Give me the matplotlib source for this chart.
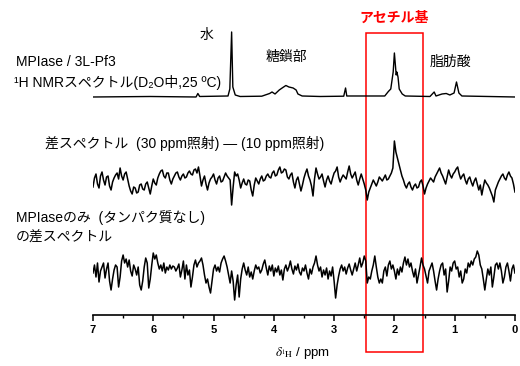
import numpy as np
import matplotlib
matplotlib.use("Agg")
import matplotlib.pyplot as plt
from matplotlib.patches import Rectangle

plt.rcParams['font.family'] = ['Liberation Sans', 'DejaVu Sans', 'Noto Sans CJK JP']
plt.rcParams['mathtext.fontset'] = 'stix'

# 1H NMR spectrum (ppm, intensity)
top_ppm = [7.0, 6.05, 5.29, 5.26, 5.23, 4.76, 4.73, 4.70, 4.68, 4.64, 4.56,
           4.20, 4.07, 4.03, 3.98, 3.91, 3.85, 3.80, 3.75, 3.68, 3.63, 3.60,
           3.53, 3.23, 2.84, 2.81, 2.79, 2.16, 2.10, 2.06, 2.02, 2.00, 1.97,
           1.96, 1.94, 1.92, 1.87, 1.82, 1.41, 1.34, 1.31, 1.21, 1.14, 1.08,
           1.01, 0.97, 0.93, 0.88, 0.0]
top_int = [0, 0.5, 0, 3.5, 0.5, 1, 8, 65, 10, 2, 0.5,
           0.8, 3.5, 5, 3, 7, 9.5, 11.5, 10, 9, 7, 3,
           1, 0.5, 0.8, 9, 1, 1, 5.5, 8, 25, 44, 22,
           25, 20, 8, 3, 1, 0.5, 5, 1, 3, 3.5, 2,
           4, 15, 4, 1, 0]

# difference spectrum (30 ppm - 10 ppm irradiation), 7.0 -> 0.0 ppm
diff_int = [
    -5, 4, 8, -2, -6, 6, 10, 2, -3, 5, 6, -4, -8, 0, 4, 7, 9, 3, 14, 6,
    2, 8, 10, 3, -4, -9, -12, -5, -6, -11, -10, -3, -2, -7, -8, -2, 0, -6, -12, -4,
    3, -1, -3, 4, 8, 11, 12, 6, 4, 9, 9, 2, -2, 3, 6, 9, 10, 5, 2, 6,
    8, 4, 5, 9, 11, 8, 7, 12, 13, 9, 15, 6, -4, 2, 6, -2, -8, -1, 3, 5,
    8, 2, -2, 4, 6, 0, 1, 5, 9, 6, 4, 2, -23, -5, 10, 6, 8, 2, -6, -1,
    3, -2, -3, 2, 1, -8, -14, -3, 4, 1, -2, 3, 6, 1, 2, 6, 8, 5, 4, 9,
    11, 6, 7, 12, 15, 9, 10, 13, 12, 5, 3, 7, 9, 0, -6, 2, 5, -2, -9, -3,
    4, 9, 13, 6, 2, -4, -14, 3, 14, 8, 3, 5, 8, 1, -5, 2, 6, 1, -2, 4,
    9, 11, 15, 5, 0, 4, 7, 5, 3, 10, 16, 8, 4, 7, 10, 2, -3, 3, 8, 3,
    -2, -8, -18, -10, -6, -2, 2, -1, -4, 0, 5, 3, 1, 4, 7, 2, 3, 6, 9, 14,
    41, 30, 24, 18, 12, 6, 2, -3, -6, -2, 0, -5, -8, -4, -2, -6, -5, 0, 2, -4,
    -12, -6, -2, 1, 4, 2, 0, 5, 8, 11, 14, 9, 6, 2, -2, 5, 12, 7, 4, 8,
    10, 13, 15, 8, 3, 6, 8, 2, -2, 3, 5, 0, -4, 1, 4, -2, -8, -3, -13, -5,
    2, -1, -3, -6, -10, -14, -20, -8, -4, 0, 3, 6, 8, 4, 2, 7, 10, 6, 4, -2,
    -10]

# MPIase only (no protein) difference spectrum
ctrl_int = [
    0, 8, -4, 10, -9, 2, 6, 10, -5, 4, 10, -8, -17, -6, 3, 8, 6, -14, -4, 12,
    18, 10, 14, 6, 13, 2, -3, 8, 4, -2, 6, -12, -17, -8, 6, 15, 10, -15, -6, 8,
    20, 14, 18, 10, 4, 8, 2, 10, 0, 6, 3, 8, 4, 7, 6, 2, 5, 9, -4, 3,
    12, -6, 8, -2, 3, -14, -4, 8, 13, 6, 10, 12, 15, 8, -2, -10, -6, -14, -20, -8,
    4, 8, 2, 6, 1, 10, 14, 17, 12, 6, -2, -10, 2, -8, -27, -12, -2, -24, -6, 4,
    10, 3, -2, 6, -4, 1, -6, 2, 8, 4, 6, 0, 3, 9, 13, 5, -2, 7, 2, 8,
    -3, 5, 1, 7, -2, 3, -7, 4, 8, 2, 6, 12, 4, -1, 7, 3, 9, 1, -2, 5,
    2, 8, 0, -6, 4, -1, 6, 10, 17, 8, 2, 6, -4, 3, -2, 5, -6, 2, -3, 6,
    -8, -25, -12, -3, 4, 8, 2, 6, -1, 5, 9, 3, -2, 4, 10, 2, 8, 15, 6, 10,
    17, 12, -10, -4, -6, 2, 8, 17, 6, -4, -10, -6, -10, 2, 6, -3, 8, 12, 4, 8,
    2, -6, 4, -2, 6, 1, 10, 16, 8, 14, 6, 10, 2, -4, 4, -10, -2, 6, 15, 8,
    4, -3, -10, 2, 6, 10, 2, -8, -17, -6, 2, 8, 10, -2, 4, -19, -8, 6, 2, 10,
    12, 4, 6, -4, 2, -10, -6, 4, 0, 10, 6, 12, 8, 14, 16, 22, 18, 8, 4, -6,
    -17, -6, 4, -2, 6, -14, -4, 8, 10, 4, 10, 2, -10, -4, 6, 10, 2, -8, 4, 8,
    0]

noise_ppm = np.linspace(7.0, 0.0, len(diff_int))
acetyl_range = (1.53, 2.47)

fig = plt.figure(figsize=(5.2, 3.66), dpi=100)
ax = fig.add_axes([0.1788, 0.1393, 0.8115, 0.8061])

ax.plot(top_ppm, np.array(top_int) + 218, color='black', lw=1.0)
ax.plot(noise_ppm, np.array(diff_int) + 133, color='black', lw=1.1)
ax.plot(noise_ppm, np.array(ctrl_int) + 42, color='black', lw=1.1)

ax.set_xlim(7, 0)
ax.set_ylim(0, 295)
for s in ['top', 'left', 'right']:
    ax.spines[s].set_visible(False)
ax.spines['bottom'].set_linewidth(1.2)
ax.set_yticks([])
ax.set_xticks([7, 6, 5, 4, 3, 2, 1, 0])
ax.set_xticks(np.arange(0.5, 7, 1.0), minor=True)
ax.tick_params(axis='x', which='major', direction='out', length=4, width=1.1,
               labelsize=8, pad=3)
ax.tick_params(axis='x', which='minor', direction='out', length=2.5, width=1.0)
for lab in ax.get_xticklabels():
    lab.set_fontweight('bold')

# red box around acetyl region
ax.add_patch(Rectangle((acetyl_range[0], -37), acetyl_range[1] - acetyl_range[0], 319,
                       fill=False, edgecolor='red', lw=1.1, clip_on=False))

def px(x, y):
    return x / 520, 1 - y / 366

fs = 10
fig.text(*px(394, 18), 'アセチル基', color='red', fontsize=10, fontweight='bold',
         ha='center', va='center')
fig.text(*px(207, 35), '水', fontsize=fs, ha='center', va='center')
fig.text(*px(266, 57), '糖鎖部', fontsize=fs, ha='left', va='center')
fig.text(*px(430, 62), '脂肪酸', fontsize=fs, ha='left', va='center')
fig.text(*px(16, 62), 'MPIase / 3L-Pf3', fontsize=fs, ha='left', va='center')
fig.text(*px(14, 82), '¹H NMRスペクトル(D₂O中,25 ºC)', fontsize=fs, ha='left', va='center')
fig.text(*px(45, 143), '差スペクトル  (30 ppm照射) — (10 ppm照射)', fontsize=fs,
         ha='left', va='center')
fig.text(*px(16, 218), 'MPIaseのみ  (タンパク質なし)', fontsize=fs, ha='left', va='center')
fig.text(*px(16, 238), 'の差スペクトル', fontsize=fs, ha='left', va='center')
fig.text(*px(275, 353), r'$\delta_{^{1}\mathrm{H}}$ / ppm', fontsize=9.5,
         ha='left', va='center')

fig.savefig('out.png', dpi=100)
